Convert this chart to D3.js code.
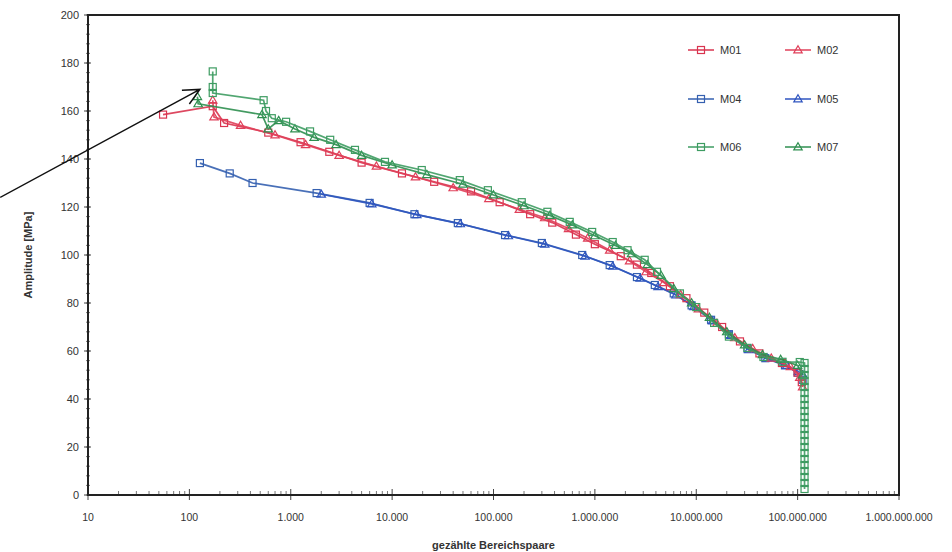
<!DOCTYPE html>
<html>
<head>
<meta charset="utf-8">
<script src="https://cdn.jsdelivr.net/npm/d3@7"></script>
<style>
  body { margin: 0; background: #fff; }
  text { font-family: "Liberation Sans", Arial, sans-serif; }
</style>
</head>
<body>
<div id="chart"></div>
<script>
// Chart size and plot frame
const width = 952,
      height = 552;
const margin = { top: 15, right: 53, bottom: 57, left: 88 };

// Data: [Bereichspaare, Amplitude in MPa]
const m01 = [[55,158.5],[170,162],[220,155],[600,151],[1250,147],[2400,143],[5000,138.5],[12500,134],[26000,130.5],[60000,126.5],[115000,122],[230000,117],[380000,113.5],[650000,108.5],[1000000,104.5],[1800000,99.5],[2600000,96],[3600000,92.5],[5500000,87],[8000000,82],[12000000,76],[18000000,70],[27000000,64],[42000000,59],[70000000,55],[100000000,51],[110000000,47]];
const m02 = [[170,164.5],[175,157.5],[320,154],[700,150],[1400,146],[3000,141.5],[7000,137],[17000,132.5],[40000,128],[90000,123.5],[180000,119],[320000,115.5],[550000,111],[850000,107],[1400000,102],[2200000,97.5],[3200000,93],[4800000,88.5],[7000000,83.5],[10500000,77.5],[16000000,71.5],[24000000,65.5],[36000000,61],[55000000,57],[85000000,53.5],[105000000,49],[112000000,45]];
const m04 = [[127,138.3],[250,134],[420,130],[1800,125.8],[6000,121.7],[16600,117],[44500,113.3],[130000,108.3],[300000,105],[750000,100],[1400000,95.8],[2600000,90.8],[3900000,87.5],[6000000,84],[9000000,79],[14000000,73],[21000000,67],[32000000,61],[48000000,57],[75000000,54],[100000000,51],[112000000,48]];
const m05 = [[2000,125.3],[6300,121.3],[17500,116.8],[47000,113],[140000,108],[320000,104.5],[800000,99.5],[1500000,95.3],[2800000,90.3],[4200000,86.8],[6300000,83.3],[9500000,78.5],[14500000,72.5],[22000000,66.5],[33000000,60.5],[50000000,57],[78000000,54],[102000000,51.5],[113000000,50]];
const m06 = [[170,176.5],[170,170],[170,167.5],[540,164.5],[570,160],[650,157],[900,155.5],[1550,151.5],[2450,148],[4300,143.8],[8500,138.8],[19600,135.4],[46500,131.2],[88000,127],[190000,122],[340000,118],[565000,113.8],[940000,109.6],[1500000,105.4],[2100000,102],[3100000,98],[4100000,93],[6900000,84],[10000000,78.3],[15000000,71.7],[21000000,66],[32000000,61.3],[46000000,57.5],[71000000,55.5],[105000000,55.4],
  [117000000,55],[117000000,52.5],[117000000,50],[117000000,47.5],[117000000,45],[117000000,42.5],[117000000,40],[117000000,37.5],[117000000,35],[117000000,32.5],[117000000,30],[117000000,27.5],[117000000,25],[117000000,22.5],[117000000,20],[117000000,17.5],[117000000,15],[117000000,12.5],[117000000,10],[117000000,7.5],[117000000,5],[117000000,2.5]];
const m07 = [[120,166],[122,163],[520,158.5],[600,152.5],[760,156],[1100,152.5],[1700,149],[2800,146],[5000,141.5],[10000,137.5],[22000,133.5],[50000,129.5],[100000,125],[200000,120.5],[360000,116.5],[600000,112.5],[1000000,108],[1600000,104],[2300000,100.5],[3300000,96],[4500000,91.5],[6000000,86],[9000000,80],[13500000,74],[20000000,68],[30000000,62.5],[45000000,58.5],[68000000,56.5],[100000000,54],[112000000,50]];

const seriesNames = ["M01", "M02", "M04", "M05", "M06", "M07"];
const seriesData = [m01, m02, m04, m05, m06, m07];
const seriesColors = ["#d9344f", "#e0405a", "#3560b0", "#2f55c0", "#3e9c62", "#2f8f50"];
const seriesMarkers = ["square", "triangle", "square", "triangle", "square", "triangle"];

const xTickValues = [1e1, 1e2, 1e3, 1e4, 1e5, 1e6, 1e7, 1e8, 1e9];
const yTickValues = [0, 20, 40, 60, 80, 100, 120, 140, 160, 180, 200];

// annotation arrow, in data units
const arrowFrom = [1.36, 124];
const arrowTo = [127, 169];

const svg = d3.select("#chart")
  .append("svg")
  .attr("width", width)
  .attr("height", height);

const xScale = d3.scaleLog().domain([10, 1e9]).range([margin.left, width - margin.right]);
const yScale = d3.scaleLinear().domain([0, 200]).range([height - margin.bottom, margin.top]);

// German number format: 1.000.000
const de = d3.formatLocale({ decimal: ",", thousands: ".", grouping: [3], currency: ["", ""] });
const fmt = de.format(",");

// minor ticks
const xMinor = [];
for (let e = 1; e < 9; e++) for (let k = 2; k <= 9; k++) xMinor.push(k * Math.pow(10, e));
const yMinor = d3.range(0, 201, 4);

const axisColor = "#222";
const x0 = xScale.range()[0], x1 = xScale.range()[1];
const yb = yScale(0), yt = yScale(200);

// y axis
const yAxis = svg.append("g").attr("transform", `translate(${x0},0)`);
yAxis.selectAll(".minor").data(yMinor).enter().append("line")
  .attr("x1", -2).attr("x2", 2)
  .attr("y1", d => yScale(d)).attr("y2", d => yScale(d))
  .attr("stroke", "#555").attr("stroke-width", 0.8);
yAxis.selectAll(".major").data(yTickValues).enter().append("line")
  .attr("x1", -4).attr("x2", 3)
  .attr("y1", d => yScale(d)).attr("y2", d => yScale(d))
  .attr("stroke", "#444").attr("stroke-width", 1);
yAxis.selectAll("text").data(yTickValues).enter().append("text")
  .attr("x", -9).attr("y", d => yScale(d)).attr("dy", "0.35em")
  .attr("text-anchor", "end")
  .attr("font-size", 11).attr("fill", "#333")
  .text(d => d);

// x axis
const xAxis = svg.append("g").attr("transform", `translate(0,${yb})`);
xAxis.selectAll(".minor").data(xMinor).enter().append("line")
  .attr("x1", d => xScale(d)).attr("x2", d => xScale(d))
  .attr("y1", -4).attr("y2", 0)
  .attr("stroke", "#555").attr("stroke-width", 0.8);
xAxis.selectAll(".major").data(xTickValues).enter().append("line")
  .attr("x1", d => xScale(d)).attr("x2", d => xScale(d))
  .attr("y1", -6).attr("y2", 5)
  .attr("stroke", "#444").attr("stroke-width", 1);
xAxis.selectAll("text").data(xTickValues).enter().append("text")
  .attr("x", d => xScale(d)).attr("y", 26)
  .attr("text-anchor", "middle")
  .attr("font-size", 10.5).attr("fill", "#333")
  .text(d => fmt(d));

// frame
svg.append("rect")
  .attr("x", x0).attr("y", yt)
  .attr("width", x1 - x0).attr("height", yb - yt)
  .attr("fill", "none").attr("stroke", axisColor).attr("stroke-width", 2);

// axis titles
svg.append("text")
  .attr("x", (x0 + x1) / 2).attr("y", 549)
  .attr("text-anchor", "middle")
  .attr("font-size", 11).attr("font-weight", "bold").attr("fill", "#333")
  .text("gezählte Bereichspaare");
svg.append("text")
  .attr("transform", `translate(32,${(yt + yb) / 2}) rotate(-90)`)
  .attr("text-anchor", "middle")
  .attr("font-size", 11).attr("font-weight", "bold").attr("fill", "#333")
  .text("Amplitude [MPa]");

// markers
const sq = 7;
function drawMarker(g, type, cx, cy, color) {
  if (type === "square") {
    g.append("rect")
      .attr("x", cx - sq / 2).attr("y", cy - sq / 2)
      .attr("width", sq).attr("height", sq)
      .attr("fill", "none").attr("stroke", color).attr("stroke-width", 1.2);
  } else {
    const s = 4.2;
    g.append("path")
      .attr("d", `M${cx},${cy - s}L${cx + s},${cy + s * 0.7}L${cx - s},${cy + s * 0.7}Z`)
      .attr("fill", "none").attr("stroke", color).attr("stroke-width", 1.2);
  }
}

const line = d3.line()
  .x(d => xScale(d[0]))
  .y(d => yScale(d[1]));

// draw blue first, then red, then green on top
const drawOrder = [2, 3, 0, 1, 5, 4];
drawOrder.forEach(i => {
  const g = svg.append("g").attr("class", "series-" + seriesNames[i]);
  g.append("path")
    .datum(seriesData[i])
    .attr("d", line)
    .attr("fill", "none")
    .attr("stroke", seriesColors[i])
    .attr("stroke-width", 1.7)
    .attr("stroke-opacity", 0.9);
  seriesData[i].forEach(d => drawMarker(g, seriesMarkers[i], xScale(d[0]), yScale(d[1]), seriesColors[i]));
});

// legend
const legendX = [688, 785];
const legendY = [50, 99, 147];
seriesNames.forEach((name, i) => {
  const lx = legendX[i % 2], ly = legendY[Math.floor(i / 2)];
  const g = svg.append("g").attr("transform", `translate(${lx},${ly})`);
  g.append("line").attr("x1", 0).attr("x2", 26).attr("y1", 0).attr("y2", 0)
    .attr("stroke", seriesColors[i]).attr("stroke-width", 1.5);
  drawMarker(g, seriesMarkers[i], 13, 0, seriesColors[i]);
  g.append("text").attr("x", 32).attr("y", 0).attr("dy", "0.35em")
    .attr("font-size", 11).attr("fill", "#333")
    .text(name);
});

// annotation arrow
const ax0 = xScale(arrowFrom[0]), ay0 = yScale(arrowFrom[1]);
const ax1 = xScale(arrowTo[0]), ay1 = yScale(arrowTo[1]);
const ang = Math.atan2(ay1 - ay0, ax1 - ax0);
const head = 18, spread = 0.45;
svg.append("path")
  .attr("d", `M${ax0},${ay0}L${ax1},${ay1}` +
    `M${ax1 - head * Math.cos(ang - spread)},${ay1 - head * Math.sin(ang - spread)}L${ax1},${ay1}` +
    `L${ax1 - head * Math.cos(ang + spread)},${ay1 - head * Math.sin(ang + spread)}`)
  .attr("fill", "none").attr("stroke", "#111").attr("stroke-width", 1.5);
</script>
</body>
</html>
